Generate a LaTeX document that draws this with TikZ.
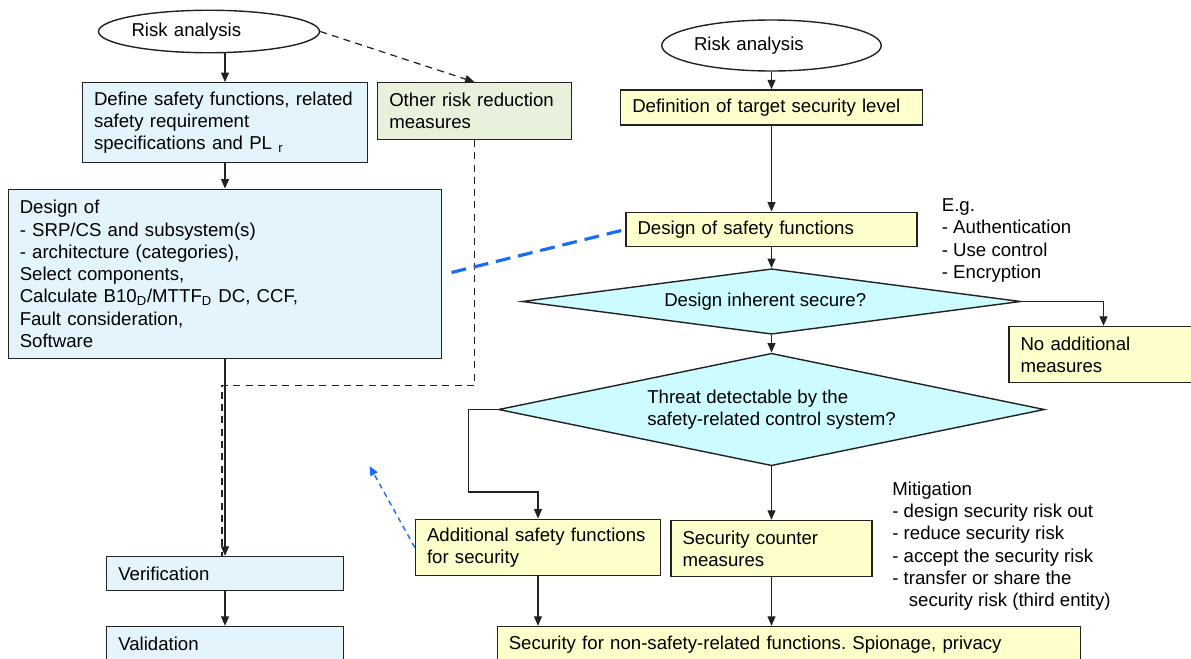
\documentclass[tikz,border=0pt]{standalone}
\usepackage{fontspec}
\setmainfont{Liberation Sans}
\usetikzlibrary{shapes.geometric, arrows.meta}
\definecolor{flowBlueSoft}{HTML}{E3F4FC}
\definecolor{flowGreenSoft}{HTML}{E8F1DB}
\definecolor{flowYellowSoft}{HTML}{FFFFCC}
\definecolor{flowCyanSoft}{HTML}{CCFCFF}
\definecolor{flowBlue}{HTML}{1A6DF2}
\definecolor{flowDark}{HTML}{222222}

\begin{document}
\begin{tikzpicture}[
    startNode/.style={draw=flowDark, line width=0.8pt, ellipse, inner sep=0pt, text width=3.1cm, align=left, minimum width=4.42cm},
    safetyBox/.style={draw=flowDark, line width=0.8pt, rectangle, fill=flowBlueSoft, align=left, inner xsep=0.23cm, inner ysep=0pt},
    otherBox/.style={safetyBox, fill=flowGreenSoft},
    securityBox/.style={safetyBox, fill=flowYellowSoft},
    decision/.style={draw=flowDark, line width=0.8pt, diamond, fill=flowCyanSoft, align=left, inner sep=0pt},
    note/.style={anchor=north west, align=left, inner sep=0pt},
    >={Triangle[length=1.9mm, width=1.6mm]},
    line/.style={draw=flowDark, line width=0.7pt},
    arr/.style={line, ->},
    dashLine/.style={line, dash pattern=on 4pt off 3pt},
    link/.style={draw=flowBlue, line width=1.8pt, dash pattern=on 8.5pt off 4.5pt},
    hint/.style={draw=flowBlue, line width=0.8pt, dash pattern=on 3pt off 2.5pt, ->},
    every node/.style={font=\fontsize{10.6}{12.7}\selectfont},
]
\useasboundingbox (0,0) rectangle (23.82,-13.16);
\clip (0,0) rectangle (23.82,-13.16);
\node[startNode, minimum height=0.85cm]                         (leftRisk)     at (4.18, -0.63) {Risk analysis};
\node[safetyBox, text width=5.24cm, minimum height=1.59cm]      (defineSafety) at (4.5, -2.45)  {Define safety functions, related\\safety requirement\\specifications and PL \textsubscript{r}};
\node[otherBox, text width=3.41cm, minimum height=1.13cm]       (otherRisk)    at (9.49, -2.22) {Other risk reduction\\measures};
\node[safetyBox, text width=8.21cm, minimum height=3.39cm]      (designOf)     at (4.5, -5.48)  {Design of\\- SRP/CS and subsystem(s)\\- architecture (categories),\\Select components,\\Calculate B10\textsubscript{D}/MTTF\textsubscript{D} DC, CCF,\\Fault consideration,\\Software};
\node[safetyBox, text width=4.27cm, minimum height=0.68cm]      (verification) at (4.5, -11.47) {Verification};
\node[safetyBox, text width=4.27cm, minimum height=0.68cm]      (validation)   at (4.5, -12.87) {Validation};
\node[startNode, minimum height=1.02cm, minimum width=4.39cm]   (rightRisk)    at (15.43, -0.91) {Risk analysis};
\node[securityBox, text width=5.57cm, minimum height=0.70cm]    (defTarget)    at (15.43, -2.15) {Definition of target security level};
\node[securityBox, text width=5.36cm, minimum height=0.69cm]    (designSafety) at (15.43, -4.59) {Design of safety functions};
\node[decision, aspect=7.61, minimum width=9.97cm, minimum height=1.31cm]  (inherentSecure) at (15.43, -6.03) {Design inherent secure?\hspace*{0.25cm}};
\node[decision, aspect=4.85, minimum width=10.92cm, minimum height=2.25cm] (threatDetect)   at (15.43, -8.19) {Threat detectable by the\\safety-related control system?};
\node[securityBox, text width=3.32cm, minimum height=1.12cm]    (noAdditional) at (22.07, -7.09) {No additional\\measures};
\node[securityBox, text width=4.44cm, minimum height=1.13cm]    (addSafety)    at (10.76, -10.95) {Additional safety functions\\for security};
\node[securityBox, text width=3.56cm, minimum height=1.12cm]    (counterMeasures) at (15.43, -10.97) {Security counter\\measures};
\node[securityBox, text width=11.21cm, minimum height=0.72cm]   (nonSafety)    at (15.78, -12.89) {Security for non-safety-related functions.\ Spionage, privacy};
\node[note] (egNote)         at (18.83, -3.97) {E.g.\\- Authentication\\- Use control\\- Encryption};
\node[note] (mitigationNote) at (17.84, -9.63) {Mitigation\\- design security risk out\\- reduce security risk\\- accept the security risk\\- transfer or share the\\\hspace*{0.33cm}security risk (third entity)};
\draw[arr] (leftRisk.south -| defineSafety.north) -- (defineSafety.north);
\draw[arr] (defineSafety.south) -- (designOf.north);
\draw[dashLine, ->] (leftRisk.east) -- (otherRisk.north);
\draw[dashLine] (otherRisk.south) -- ++(0,-4.91) -| ([xshift=-0.06cm]verification.north);
\draw[arr] (designOf.south) -- (verification.north);
\draw[arr] (verification.south) -- (validation.north);
\draw[arr] (rightRisk.south) -- (defTarget.north);
\draw[arr] (defTarget.south) -- (designSafety.north);
\draw[arr] (designSafety.south) -- (inherentSecure.north);
\draw[arr] (inherentSecure.east) -| (noAdditional.north);
\draw[arr] (inherentSecure.south) -- (threatDetect.north);
\draw[arr] (threatDetect.west) -- ++(-0.59,0) |- ([yshift=0.53cm]addSafety.north) -- (addSafety.north);
\draw[arr] (threatDetect.south) -- (counterMeasures.north);
\draw[arr] (addSafety.south) -- (addSafety.south |- nonSafety.north);
\draw[arr] (counterMeasures.south) -- (counterMeasures.south |- nonSafety.north);
\coordinate (linkStart) at (9.03, -5.45);
\draw[link] (linkStart) -- (designSafety.west);
\coordinate (hintTip) at (7.39, -9.32);
\draw[hint] (addSafety.west) -- (hintTip);
\end{tikzpicture}
\end{document}
